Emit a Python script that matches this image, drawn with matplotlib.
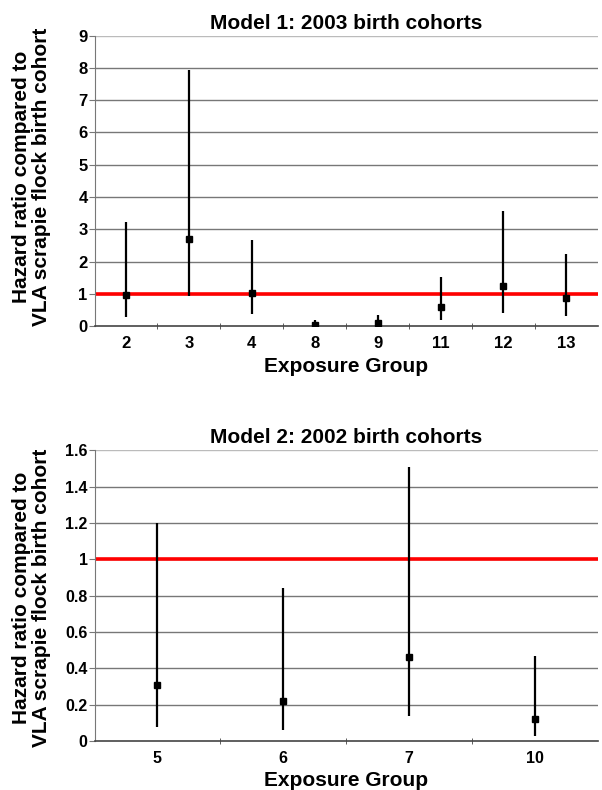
import matplotlib
matplotlib.use("Agg")
import matplotlib.pyplot as plt
import numpy as np

plt.rcParams['font.family'] = ['Liberation Sans', 'DejaVu Sans']
plt.rcParams['font.weight'] = 'bold'

# Model 1: 2003 birth cohorts
groups1 = ['2', '3', '4', '8', '9', '11', '12', '13']
hr1 = [0.97, 2.69, 1.04, 0.05, 0.10, 0.60, 1.25, 0.87]
lo1 = [0.29, 0.93, 0.37, 0.00, 0.01, 0.20, 0.42, 0.33]
hi1 = [3.22, 7.94, 2.68, 0.18, 0.36, 1.52, 3.58, 2.25]

# Model 2: 2002 birth cohorts
groups2 = ['5', '6', '7', '10']
hr2 = [0.31, 0.22, 0.46, 0.12]
lo2 = [0.077, 0.059, 0.137, 0.027]
hi2 = [1.20, 0.84, 1.51, 0.47]

ylabel = "Hazard ratio compared to\nVLA scrapie flock birth cohort"


def panel(ax, groups, hr, lo, hi, title, ymax, ystep, ticksize):
    x = np.arange(len(groups))
    ax.set_xlim(-0.5, len(groups) - 0.5)
    ax.set_ylim(0, ymax)
    yt = np.arange(0, ymax + ystep / 2, ystep)
    ax.set_yticks(yt)
    ax.set_yticklabels([f'{v:g}' for v in yt], fontsize=ticksize, fontweight='bold')
    for v in yt[1:]:
        ax.axhline(v, color='#bbbbbb' if v == yt[-1] else '#777777', lw=1, zorder=1)
    ax.axhline(1, color='#ff0000', lw=2.6, zorder=2)
    ax.vlines(x, lo, hi, color='black', lw=1.6, zorder=3)
    ax.plot(x, hr, 's', color='black', ms=4, zorder=4)
    ax.set_xticks(x)
    ax.set_xticklabels(groups, fontsize=ticksize, fontweight='bold')
    ax.set_xticks(np.arange(0.5, len(groups) - 0.5, 1), minor=True)
    ax.tick_params(axis='x', which='major', length=0, pad=7)
    ax.tick_params(axis='x', which='minor', length=5, direction='inout', color='#444444')
    ax.tick_params(axis='y', length=4, color='#777777', pad=1)
    for s in ['top', 'right']:
        ax.spines[s].set_visible(False)
    ax.spines['left'].set_color('#777777')
    ax.spines['bottom'].set_color('#444444')
    ax.spines['bottom'].set_linewidth(1.2)
    ax.set_title(title, fontsize=15, fontweight='bold', pad=5)
    ax.set_xlabel('Exposure Group', fontsize=15, fontweight='bold', labelpad=4)


fig = plt.figure(figsize=(6.02, 7.90), dpi=100)
ax1 = fig.add_axes([0.157, 0.587, 0.836, 0.368])
ax2 = fig.add_axes([0.157, 0.062, 0.836, 0.368])

panel(ax1, groups1, hr1, lo1, hi1, 'Model 1: 2003 birth cohorts', 9, 1, 12)
panel(ax2, groups2, hr2, lo2, hi2, 'Model 2: 2002 birth cohorts', 1.6, 0.2, 11.5)

fig.text(0.052, 0.776, ylabel, rotation=90, ha='center', va='center',
         fontsize=15, fontweight='bold', linespacing=1.05, multialignment='center')
fig.text(0.052, 0.243, ylabel, rotation=90, ha='center', va='center',
         fontsize=15, fontweight='bold', linespacing=1.05, multialignment='center')

fig.savefig('out.png', dpi=100)
